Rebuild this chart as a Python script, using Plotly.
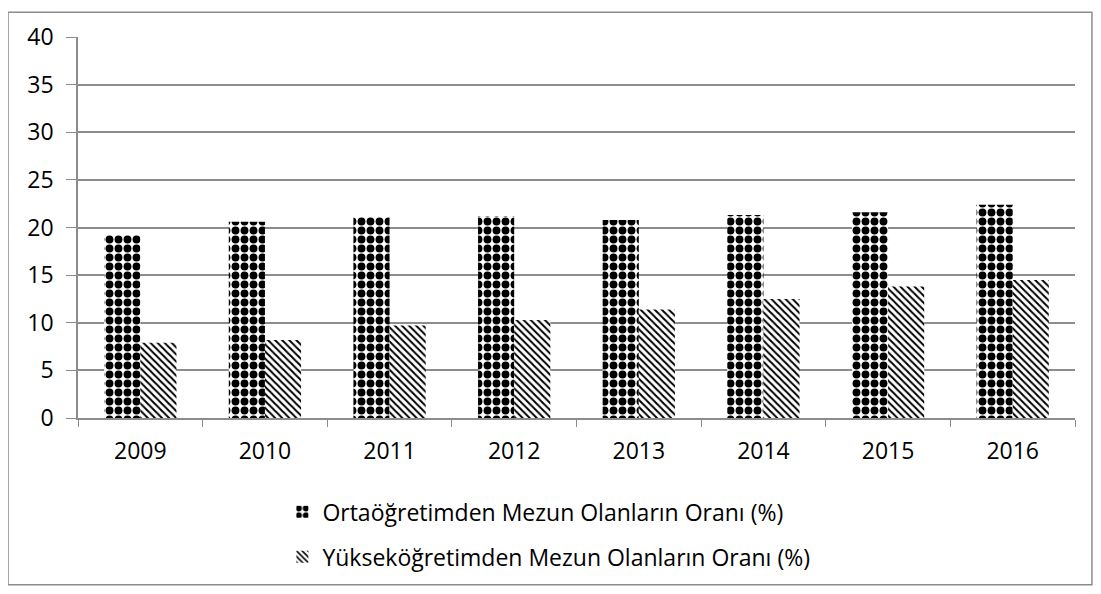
import plotly.graph_objects as go

years = ["2009", "2010", "2011", "2012", "2013", "2014", "2015", "2016"]
orta = [19.2, 20.6, 21.1, 21.2, 20.8, 21.3, 21.6, 22.4]
yuksek = [7.9, 8.2, 9.7, 10.3, 11.4, 12.5, 13.8, 14.5]
name_orta = "Ortaöğretimden Mezun Olanların Oranı (%)"
name_yuksek = "Yükseköğretimden Mezun Olanların Oranı (%)"

FONT = "Open Sans"
GRID = "#8c8c8c"
FS = 23

fig = go.Figure()
fig.add_trace(go.Bar(
    x=years, y=orta, name=name_orta, legendgroup="a",
    marker=dict(color="white", line=dict(width=0),
                pattern=dict(shape=".", fgcolor="black", bgcolor="white",
                             size=9, solidity=0.6, fillmode="replace")),
))
fig.add_trace(go.Bar(
    x=years, y=yuksek, name=name_yuksek, legendgroup="b",
    marker=dict(color="white", line=dict(width=0),
                pattern=dict(shape="\\", fgcolor="black", bgcolor="white",
                             size=5, solidity=0.4, fillmode="replace")),
))

fig.update_layout(
    width=1101, height=594,
    paper_bgcolor="white", plot_bgcolor="white",
    margin=dict(l=70, r=34, t=26, b=184),
    barmode="group", bargap=0.42, bargroupgap=0,
    font=dict(family=FONT, size=FS, color="black"),
    showlegend=True,
    legend=dict(orientation="v", x=0.205, xanchor="left", y=-0.19, yanchor="top",
                font=dict(family=FONT, size=FS), tracegroupgap=12,
                itemwidth=30, bgcolor="rgba(0,0,0,0)"),
    xaxis=dict(type="category", showgrid=False, showline=True, linecolor=GRID,
               linewidth=1.5, ticks="outside", tickson="boundaries", ticklen=7,
               tickcolor=GRID, ticklabelstandoff=12,
               tickfont=dict(family=FONT, size=FS)),
    yaxis=dict(range=[0, 40], dtick=5, showgrid=True, gridcolor=GRID, gridwidth=1.5,
               showline=True, linecolor=GRID, linewidth=1.5, ticks="outside",
               ticklen=10, tickcolor=GRID, zeroline=False, ticklabelstandoff=8,
               tickfont=dict(family=FONT, size=FS)),
    shapes=[dict(type="rect", xref="paper", yref="paper",
                 x0=-0.0702, x1=1.017, y0=-0.4375, y1=1.065,
                 line=dict(color=GRID, width=1.5), fillcolor="rgba(0,0,0,0)")],
)

fig.write_html("out.html")
